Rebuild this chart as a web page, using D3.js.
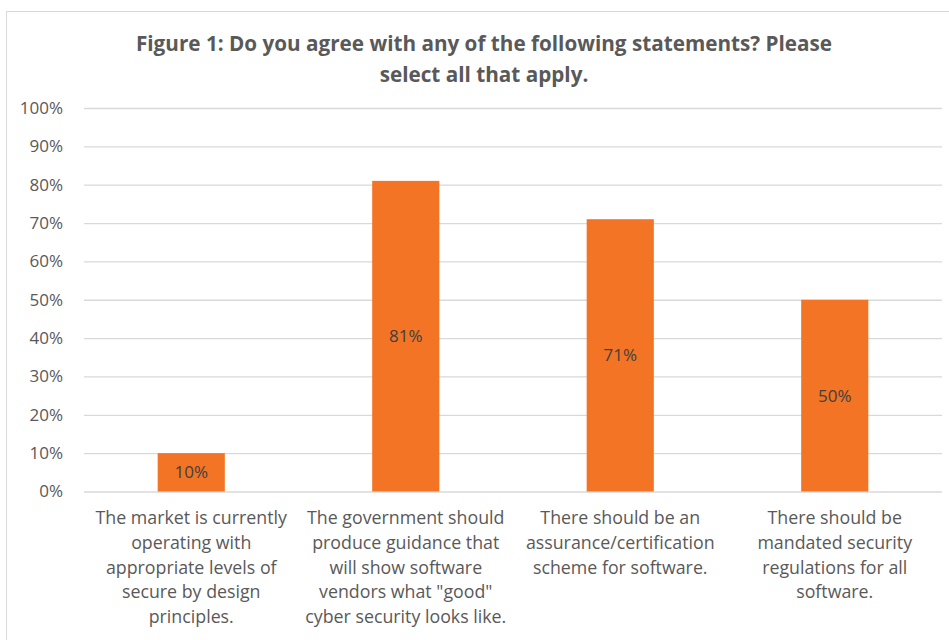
<!DOCTYPE html>
<html>
<head>
<meta charset="utf-8">
<script src="https://cdn.jsdelivr.net/npm/d3@7"></script>
<style>
  body { margin: 0; background: #fff; }
  svg { display: block; font-family: "Open Sans", sans-serif; }
</style>
</head>
<body>
<script>
// data
var categories = ["market", "government", "assurance", "regulations"];
var values = [10, 81, 71, 50];
var categoryLines = [
  ["The market is currently", "operating with", "appropriate levels of", "secure by design", "principles."],
  ["The government should", "produce guidance that", "will show software", "vendors what \"good\"", "cyber security looks like."],
  ["There should be an", "assurance/certification", "scheme for software."],
  ["There should be", "mandated security", "regulations for all", "software."]
];
var yTicks = [0, 10, 20, 30, 40, 50, 60, 70, 80, 90, 100];
var titleLines = ["Figure 1: Do you agree with any of the following statements? Please", "select all that apply."];

var W = 949, H = 640;
var plot = {left: 84, right: 942, top: 108, bottom: 491.5};

var svg = d3.select("body").append("svg").attr("width", W).attr("height", H);

// chart border
svg.append("rect").attr("x", 6.5).attr("y", 11.5).attr("width", 960).attr("height", 700)
    .attr("fill", "#fff").attr("stroke", "#d9d9d9");

var x = d3.scaleBand().domain(categories).range([plot.left, plot.right])
    .paddingInner(0.687).paddingOuter(0.3435);
var y = d3.scaleLinear().domain([0, 100]).range([plot.bottom, plot.top]);

// grid + y labels
var yAxis = d3.axisLeft(y).tickValues(yTicks).tickSize(-(plot.right - plot.left))
    .tickPadding(21).tickFormat(function(d){ return d + "%"; });
var gy = svg.append("g").attr("transform", "translate(" + plot.left + ",0)").call(yAxis);
gy.select(".domain").remove();
gy.selectAll("line").attr("stroke", "#d9d9d9").attr("stroke-width", 1.3);
gy.selectAll("text").attr("fill", "#595959").style("font-size", "17px").style("font-family", "'Open Sans', sans-serif");

// bars
svg.selectAll("rect.bar").data(values).enter().append("rect")
    .attr("class", "bar")
    .attr("x", function(d, i){ return x(categories[i]); })
    .attr("width", x.bandwidth())
    .attr("y", function(d){ return y(d); })
    .attr("height", function(d){ return y(0) - y(d); })
    .attr("fill", "#f27424");

// value labels
svg.selectAll("text.val").data(values).enter().append("text")
    .attr("class", "val")
    .attr("x", function(d, i){ return x(categories[i]) + x.bandwidth() / 2; })
    .attr("y", function(d){ return (y(d) + y(0)) / 2; })
    .attr("dy", "0.35em")
    .attr("text-anchor", "middle")
    .attr("fill", "#404040")
    .style("font-size", "17px")
    .text(function(d){ return d + "%"; });

// category labels
var xl = svg.selectAll("text.cat").data(categoryLines).enter().append("text")
    .attr("class", "cat")
    .attr("text-anchor", "middle")
    .attr("fill", "#595959")
    .style("font-size", "17.8px");
xl.each(function(lines, i){
  var t = d3.select(this);
  lines.forEach(function(l, j){
    t.append("tspan")
      .attr("x", x(categories[i]) + x.bandwidth() / 2)
      .attr("y", 518 + j * 24.7)
      .attr("dy", "0.35em")
      .text(l);
  });
});

// title
svg.selectAll("text.title").data(titleLines).enter().append("text")
    .attr("class", "title")
    .attr("x", 484)
    .attr("y", function(d, i){ return 44 + i * 31; })
    .attr("dy", "0.35em")
    .attr("text-anchor", "middle")
    .attr("fill", "#595959")
    .style("font-size", "20.7px")
    .style("font-weight", "bold")
    .text(function(d){ return d; });
</script>
</body>
</html>
